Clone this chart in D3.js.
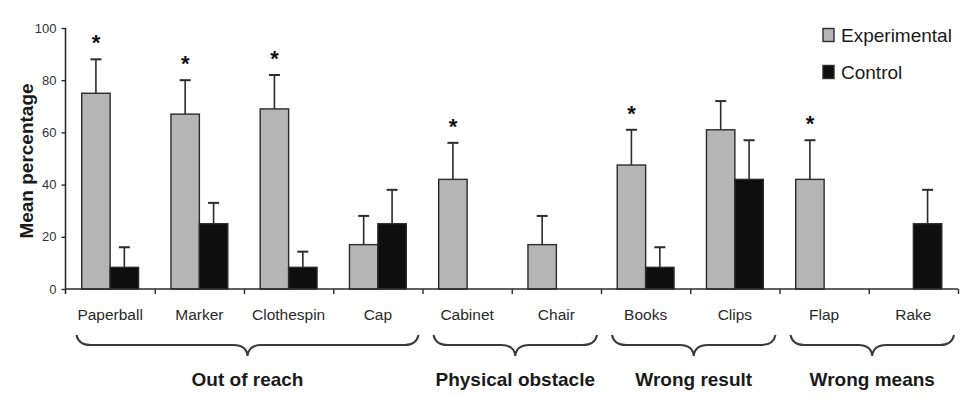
<!DOCTYPE html>
<html>
<head>
<meta charset="utf-8">
<script src="https://cdn.jsdelivr.net/npm/d3@7"></script>
<style>
  html, body { margin: 0; padding: 0; background: #fff; }
  svg { display: block; }
  text { font-family: "Liberation Sans", Arial, Helvetica, sans-serif; }
</style>
</head>
<body>
<svg id="chart" width="975" height="397"></svg>
<script>
// ---- data ----
const categories = ["Paperball", "Marker", "Clothespin", "Cap", "Cabinet", "Chair", "Books", "Clips", "Flap", "Rake"];
const seriesNames = ["Experimental", "Control"];
const experimental = [75, 67, 69, 17, 42, 17, 47.5, 61, 42, 0];
const experimentalErr = [13, 13, 13, 11, 14, 11, 13.5, 11, 15, 0];
const control = [8.3, 25, 8.3, 25, 0, 0, 8.3, 42, 0, 25];
const controlErr = [7.7, 8, 6, 13, 0, 0, 7.7, 15, 0, 13];
const significant = [true, true, true, false, true, false, true, false, true, false];
const groupNames = ["Out of reach", "Physical obstacle", "Wrong result", "Wrong means"];
const groupFirst = ["Paperball", "Cabinet", "Books", "Flap"];
const groupLast = ["Cap", "Chair", "Clips", "Rake"];
const yTicks = [0, 20, 40, 60, 80, 100];
const yLabel = "Mean percentage";

// ---- layout ----
const svg = d3.select("#chart");
const mLeft = 65.5, mRight = 958, mTop = 28, mBottom = 289;
const fills = { Experimental: "#b5b5b5", Control: "#0e0e0e" };
const ink = "#2b2b2b";

const x0 = d3.scaleBand().domain(categories).range([mLeft, mRight]).padding(0);
const x1 = d3.scaleBand().domain(seriesNames).range([0, x0.bandwidth()]).paddingInner(0).paddingOuter(0.57);
const y = d3.scaleLinear().domain([0, 100]).range([mBottom, mTop]);

const rows = categories.map((c, i) => ({
  cat: c,
  bars: [
    { s: "Experimental", v: experimental[i], e: experimentalErr[i], sig: significant[i] },
    { s: "Control", v: control[i], e: controlErr[i], sig: false }
  ]
}));

// bars
const g = svg.append("g");
rows.forEach(r => {
  r.bars.forEach(b => {
    if (b.v <= 0) return;
    const bx = x0(r.cat) + x1(b.s);
    const w = x1.bandwidth();
    if (b.e > 0) {
      const cx = bx + w / 2;
      g.append("line").attr("x1", cx).attr("x2", cx)
        .attr("y1", y(b.v)).attr("y2", y(b.v + b.e))
        .attr("stroke", ink).attr("stroke-width", 1.6);
      g.append("line").attr("x1", cx - 5.5).attr("x2", cx + 5.5)
        .attr("y1", y(b.v + b.e)).attr("y2", y(b.v + b.e))
        .attr("stroke", ink).attr("stroke-width", 2);
    }
    g.append("rect")
      .attr("x", bx).attr("y", y(b.v))
      .attr("width", w).attr("height", y(0) - y(b.v))
      .attr("fill", fills[b.s]).attr("stroke", ink).attr("stroke-width", 1.4);
    if (b.sig) {
      g.append("text")
        .attr("x", bx + w / 2).attr("y", y(b.v + b.e) - 9)
        .attr("text-anchor", "middle")
        .attr("font-size", 22).attr("font-weight", "bold").attr("fill", "#111")
        .text("*");
    }
  });
});

// y axis
const yAxis = svg.append("g").attr("transform", `translate(${mLeft},0)`)
  .call(d3.axisLeft(y).tickValues(yTicks).tickSize(4).tickPadding(5));
yAxis.select(".domain").attr("stroke", ink).attr("stroke-width", 1.6)
  .attr("d", `M0,${mTop}V${mBottom + 5}`);
yAxis.selectAll(".tick line").attr("stroke", ink).attr("stroke-width", 1.4);
yAxis.selectAll(".tick text").attr("font-size", 13).attr("fill", "#333")
  .style("font-family", '"Liberation Sans", Arial, sans-serif');

// x axis
const bounds = categories.map(c => x0(c)).concat([mRight]);
const xAxisScale = d3.scaleLinear().domain([mLeft, mRight]).range([mLeft, mRight]);
const xAxis = svg.append("g").attr("transform", `translate(0,${mBottom})`)
  .call(d3.axisBottom(xAxisScale).tickValues(bounds.slice(1)).tickSize(5).tickFormat(""));
xAxis.select(".domain").attr("stroke", ink).attr("stroke-width", 1.6)
  .attr("d", `M${mLeft},0H${mRight}`);
xAxis.selectAll(".tick line").attr("stroke", ink).attr("stroke-width", 1.4);

// category labels
svg.append("g").selectAll("text").data(categories).join("text")
  .attr("x", d => x0(d) + x1("Control"))
  .attr("y", 320)
  .attr("text-anchor", "middle")
  .attr("font-size", 15.5).attr("fill", "#2a2a2a")
  .text(d => d);

// y label
svg.append("text")
  .attr("transform", "translate(33,161) rotate(-90)")
  .attr("text-anchor", "middle")
  .attr("font-size", 19).attr("font-weight", "bold").attr("fill", "#1a1a1a")
  .text(yLabel);

// braces and group labels
const by0 = 335, by1 = 345, by2 = 356, rr = 14;
groupNames.forEach((name, i) => {
  const xa = x0(groupFirst[i]) + 11;
  const xb = x0(groupLast[i]) + x0.bandwidth() - 4;
  const xc = (xa + xb) / 2;
  const p = d3.path();
  p.moveTo(xa, by0);
  p.quadraticCurveTo(xa + 2, by1, xa + rr, by1);
  p.lineTo(xc - rr, by1);
  p.quadraticCurveTo(xc - 1, by1, xc, by2);
  p.quadraticCurveTo(xc + 1, by1, xc + rr, by1);
  p.lineTo(xb - rr, by1);
  p.quadraticCurveTo(xb - 2, by1, xb, by0);
  svg.append("path").attr("d", p.toString())
    .attr("fill", "none").attr("stroke", "#3a3a3a").attr("stroke-width", 2);
  svg.append("text")
    .attr("x", xc).attr("y", 386)
    .attr("text-anchor", "middle")
    .attr("font-size", 19).attr("font-weight", "bold").attr("fill", "#1a1a1a")
    .text(name);
});

// legend
const legend = svg.append("g");
seriesNames.forEach((s, i) => {
  const cy = 35 + i * 37;
  legend.append("rect").attr("x", 823).attr("y", cy - 6.5)
    .attr("width", 11).attr("height", 13)
    .attr("fill", fills[s]).attr("stroke", ink).attr("stroke-width", 1.4);
  legend.append("text").attr("x", 841).attr("y", cy + 6.8)
    .attr("font-size", 19).attr("fill", "#1a1a1a")
    .text(s);
});
</script>
</body>
</html>
